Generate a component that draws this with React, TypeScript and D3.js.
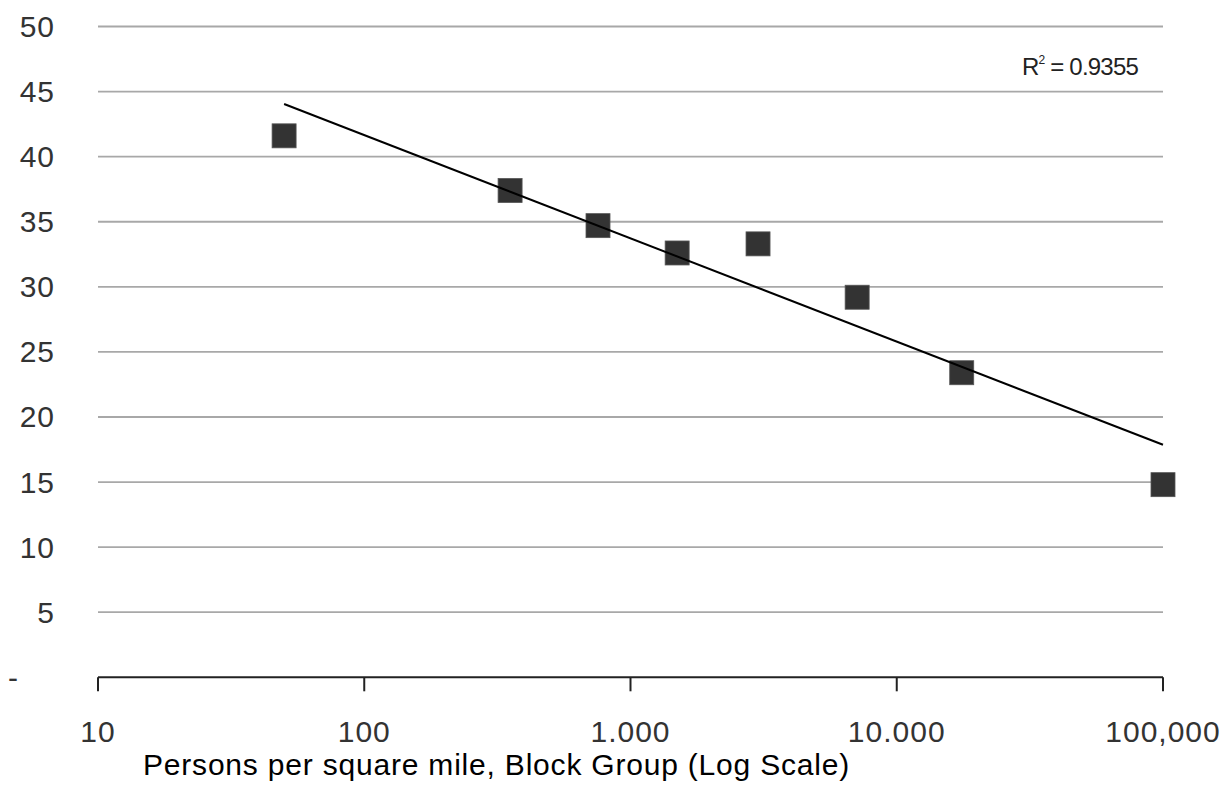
import React from "react";
import * as d3 from "d3";

const density = [50, 353, 755, 1497, 3013, 7100, 17540, 100000];
const values = [41.6, 37.4, 34.7, 32.6, 33.3, 29.2, 23.4, 14.8];
const yTicks = [5, 10, 15, 20, 25, 30, 35, 40, 45, 50];
const xTicks = [10, 100, 1000, 10000, 100000];
const xTickLabels = ["10", "100", "1.000", "10.000", "100,000"];
const xTitle = "Persons per square mile, Block Group (Log Scale)";
const r2Label = "0.9355";

export default function App() {
  const W = 1229, H = 789;
  const x = d3.scaleLog().domain([10, 100000]).range([98, 1163]);
  const y = d3.scaleLinear().domain([0, 50]).range([677.3, 26.5]);

  // least-squares logarithmic trendline
  const lx = density.map((d) => Math.log10(d));
  const mx = d3.mean(lx)!;
  const my = d3.mean(values)!;
  let sxy = 0, sxx = 0;
  lx.forEach((v, i) => {
    sxy += (v - mx) * (values[i] - my);
    sxx += (v - mx) * (v - mx);
  });
  const b = sxy / sxx;
  const a = my - b * mx;
  const [dmin, dmax] = d3.extent(density) as [number, number];
  const trendPts: [number, number][] = [dmin, dmax].map((d) => [d, a + b * Math.log10(d)]);
  const line = d3
    .line<[number, number]>()
    .x((d) => x(d[0]))
    .y((d) => y(d[1]));

  const font = "'Liberation Sans', Arial, sans-serif";
  const ms = 24;

  return (
    <svg
      width={W}
      height={H}
      style={{ position: "absolute", left: 0, top: 0, background: "#fff" }}
      fontFamily={font}
    >
      {yTicks.map((t) => (
        <g key={t}>
          <line x1={x(10)} x2={x(100000)} y1={y(t)} y2={y(t)} stroke="#a8a8a8" strokeWidth={1.8} />
          <text
            x={55}
            y={y(t)}
            textAnchor="end"
            dominantBaseline="central"
            fontSize={30}
            letterSpacing={1}
            fill="#333"
          >
            {t}
          </text>
        </g>
      ))}
      <text x={13} y={y(0)} textAnchor="middle" dominantBaseline="central" fontSize={30} fill="#333">
        -
      </text>
      <line x1={x(10)} x2={x(100000)} y1={y(0)} y2={y(0)} stroke="#222" strokeWidth={2} />
      {xTicks.map((t, i) => (
        <g key={t}>
          <line x1={x(t)} x2={x(t)} y1={y(0)} y2={y(0) + 14} stroke="#222" strokeWidth={2} />
          <text x={x(t)} y={742} textAnchor="middle" fontSize={30} letterSpacing={1} fill="#333">
            {xTickLabels[i]}
          </text>
        </g>
      ))}
      <text x={143} y={775} fontSize={30} letterSpacing={0.8} fill="#000">
        {xTitle}
      </text>
      {density.map((d, i) => (
        <rect
          key={i}
          x={x(d) - ms / 2}
          y={y(values[i]) - ms / 2}
          width={ms}
          height={ms}
          fill="#333"
          stroke="#555"
          strokeWidth={0.8}
        />
      ))}
      <path d={line(trendPts) || ""} fill="none" stroke="#000" strokeWidth={2} />
      <text x={1022} y={75} fontSize={24} letterSpacing={-0.8} fill="#222">
        R
        <tspan fontSize={12} dy={-11}>2</tspan>
        <tspan dy={11}>{" = " + r2Label}</tspan>
      </text>
    </svg>
  );
}
